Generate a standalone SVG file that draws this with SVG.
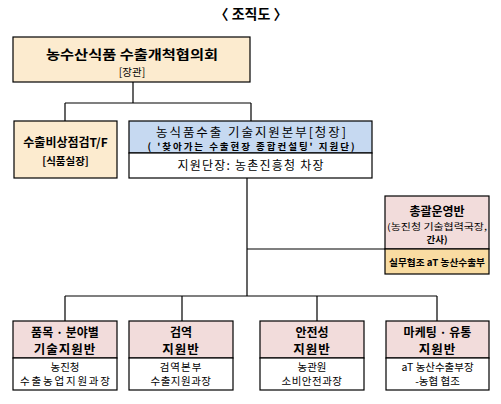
<svg xmlns="http://www.w3.org/2000/svg" width="501" height="404" viewBox="0 0 501 404">
<style>
text{font-family:"Noto Sans CJK KR","Noto Sans",sans-serif;text-anchor:middle;fill:#000}
.b{font-weight:bold}
.box{stroke:#000;stroke-width:1.2}
.ln{stroke:#000;stroke-width:1.2;fill:none}
.beige{fill:#fcebcf}
.blue{fill:#c6d9f1}
.pink{fill:#f2dcdb}
.gold{fill:#f9dca2}
.white{fill:#fff}
</style>
<rect width="501" height="404" fill="#fff"/>
<text x="251" y="19" class="b" font-size="14">〈 조직도 〉</text>
<g id="connectors">
<path class="ln" d="M133 82V103M65 103H251M65 103V121M251 103V121"/>
<path class="ln" d="M247 178V296M247 249H385"/>
<path class="ln" d="M65 296H437M65 296V321M182 296V321M317 296V321M437 296V321"/>
</g>
<g id="council">
<rect class="box beige" x="13" y="37" width="237" height="45"/>
<text x="132" y="59" class="b" font-size="13" textLength="172" lengthAdjust="spacingAndGlyphs">농수산식품 수출개척협의회</text>
<text x="132" y="76" font-size="10.5">[장관]</text>
</g>
<g id="tf">
<rect class="box beige" x="14" y="121" width="103" height="57"/>
<text x="65.5" y="147" class="b" font-size="12">수출비상점검T/F</text>
<text x="65.5" y="165" class="b" font-size="10.5">[식품실장]</text>
</g>
<g id="hq">
<rect class="box blue" x="129" y="121" width="243" height="32"/>
<rect class="box white" x="129" y="153" width="243" height="25"/>
<text x="251" y="136.5" font-size="12.5" textLength="190" lengthAdjust="spacing">농식품수출 기술지원본부[청장]</text>
<text x="251" y="150" font-size="9.5" class="b" textLength="207" lengthAdjust="spacing">( '찾아가는 수출현장 종합컨설팅' 지원단)</text>
<text x="250.5" y="170" font-size="12" textLength="146" lengthAdjust="spacing">지원단장: 농촌진흥청 차장</text>
</g>
<g id="ops">
<rect class="box pink" x="385" y="196" width="104" height="53"/>
<rect class="box gold" x="385" y="249" width="104" height="25"/>
<text x="437" y="216" class="b" font-size="12">총괄운영반</text>
<text x="437" y="230" font-size="9" textLength="100" lengthAdjust="spacingAndGlyphs">(농진청 기술협력국장,</text>
<text x="437" y="243" font-size="9.5" class="b">간사)</text>
<text x="437" y="266" font-size="9.5" class="b" textLength="96" lengthAdjust="spacingAndGlyphs">실무협조 aT 농산수출부</text>
</g>
<g id="item">
<rect class="box pink" x="13" y="321" width="104" height="37"/>
<rect class="box white" x="13" y="358" width="104" height="32"/>
<text x="65" y="337" class="b" font-size="12">품목 · 분야별</text>
<text x="65" y="354" class="b" font-size="12.5" letter-spacing="1">기술지원반</text>
<text x="65" y="371" font-size="10.5">농진청</text>
<text x="65" y="385" font-size="10.5" textLength="90" lengthAdjust="spacing">수출농업지원과장</text>
</g>
<g id="quarantine">
<rect class="box pink" x="129" y="321" width="104" height="37"/>
<rect class="box white" x="129" y="358" width="104" height="32"/>
<text x="181" y="337" class="b" font-size="12">검역</text>
<text x="181" y="354" class="b" font-size="12.5" letter-spacing="1">지원반</text>
<text x="181" y="371" font-size="10.5" letter-spacing="1">검역본부</text>
<text x="181" y="385" font-size="10.5" letter-spacing="0.5">수출지원과장</text>
</g>
<g id="safety">
<rect class="box pink" x="260" y="321" width="104" height="37"/>
<rect class="box white" x="260" y="358" width="104" height="32"/>
<text x="312" y="337" class="b" font-size="12">안전성</text>
<text x="312" y="354" class="b" font-size="12.5" letter-spacing="1">지원반</text>
<text x="312" y="371" font-size="10.5">농관원</text>
<text x="312" y="385" font-size="10.5" letter-spacing="0.5">소비안전과장</text>
</g>
<g id="marketing">
<rect class="box pink" x="386" y="321" width="103" height="37"/>
<rect class="box white" x="386" y="358" width="103" height="32"/>
<text x="437.5" y="337" class="b" font-size="12">마케팅 · 유통</text>
<text x="437.5" y="354" class="b" font-size="12.5" letter-spacing="1">지원반</text>
<text x="437.5" y="371" font-size="10.5">aT 농산수출부장</text>
<text x="437.5" y="385" font-size="10.5">-농협 협조</text>
</g>
</svg>
